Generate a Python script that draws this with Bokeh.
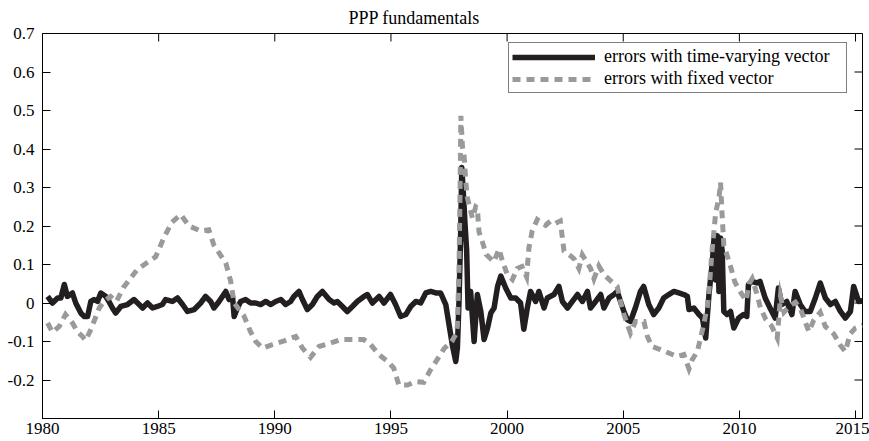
import math
from bokeh.plotting import figure
from bokeh.models import Range1d, Legend, LegendItem, FixedTicker, ColumnDataSource
from bokeh.embed import file_html
from bokeh.resources import INLINE

# ---- data ----
years_tv = [1980.22, 1980.43, 1980.65, 1980.79, 1980.94, 1981.07, 1981.29, 1981.43, 1981.65, 1981.79,
            1981.94, 1982.08, 1982.22, 1982.37, 1982.51, 1982.73, 1982.86, 1983.01, 1983.15, 1983.37,
            1983.66, 1983.94, 1984.16, 1984.31, 1984.52, 1984.74, 1984.94, 1985.16, 1985.30, 1985.59,
            1985.81, 1986.03, 1986.24, 1986.53, 1986.81, 1987.02, 1987.24, 1987.38, 1987.60, 1987.89,
            1988.03, 1988.18, 1988.25, 1988.39, 1988.53, 1988.74, 1988.96, 1989.18, 1989.39, 1989.61,
            1989.83, 1990.04, 1990.26, 1990.47, 1990.68, 1990.82, 1991.04, 1991.19, 1991.40, 1991.62,
            1991.83, 1992.05, 1992.34, 1992.55, 1992.69, 1992.91, 1993.12, 1993.34, 1993.55, 1993.84,
            1993.99, 1994.20, 1994.49, 1994.70, 1994.98, 1995.20, 1995.42, 1995.64, 1995.85, 1996.07,
            1996.28, 1996.50, 1996.71, 1996.93, 1997.14, 1997.36, 1997.50, 1997.64, 1997.79, 1997.86,
            1997.93, 1998.00, 1998.05, 1998.12, 1998.19, 1998.26, 1998.32, 1998.43, 1998.58, 1998.72,
            1998.87, 1999.01, 1999.16, 1999.30, 1999.44, 1999.59, 1999.73, 1999.94, 2000.16, 2000.37,
            2000.58, 2000.72, 2000.87, 2001.01, 2001.23, 2001.37, 2001.59, 2001.73, 2002.02, 2002.23,
            2002.38, 2002.60, 2002.81, 2003.03, 2003.24, 2003.46, 2003.59, 2003.81, 2004.03, 2004.17,
            2004.39, 2004.60, 2004.74, 2004.88, 2005.03, 2005.17, 2005.31, 2005.52, 2005.74, 2005.88,
            2006.10, 2006.31, 2006.53, 2006.74, 2006.96, 2007.18, 2007.39, 2007.61, 2007.76, 2007.83,
            2008.04, 2008.26, 2008.41, 2008.55, 2008.69, 2008.84, 2008.91, 2008.98, 2009.05, 2009.12,
            2009.19, 2009.26, 2009.33, 2009.47, 2009.62, 2009.76, 2009.97, 2010.18, 2010.32, 2010.39,
            2010.54, 2010.75, 2010.89, 2011.11, 2011.32, 2011.54, 2011.68, 2011.83, 2012.04, 2012.26,
            2012.40, 2012.62, 2012.83, 2013.05, 2013.27, 2013.48, 2013.70, 2013.92, 2014.13, 2014.35,
            2014.56, 2014.78, 2014.92, 2015.13, 2015.30]
errors_tv = [0.017, 0.0, 0.013, 0.013, 0.048, 0.017, 0.026, 0.0, -0.026, -0.035,
             -0.035, 0.004, 0.009, 0.004, 0.026, 0.017, 0.004, -0.013, -0.026, -0.009,
             -0.004, 0.009, -0.004, -0.013, 0.0, -0.013, -0.009, -0.004, 0.009, 0.004,
             0.013, -0.004, -0.022, -0.017, 0.0, 0.017, 0.004, -0.013, 0.004, 0.03,
             0.009, 0.017, -0.035, -0.013, 0.004, 0.009, 0.0, 0.0, -0.004, 0.004,
             -0.004, 0.004, 0.009, -0.004, 0.004, 0.017, 0.03, 0.009, -0.017, -0.004,
             0.017, 0.03, 0.009, 0.0, 0.004, -0.009, -0.022, -0.009, 0.004, 0.017,
             0.022, 0.0, 0.017, 0.0, 0.022, -0.004, -0.035, -0.03, -0.009, 0.004,
             0.0, 0.026, 0.03, 0.026, 0.026, -0.004, -0.056, -0.108, -0.152, -0.117,
             0.004, 0.178, 0.352, 0.282, 0.204, 0.135, -0.013, 0.03, -0.10, 0.022,
             -0.022, -0.095, -0.065, -0.026, -0.013, 0.043, 0.07, 0.039, 0.013, 0.013,
             0.0, -0.068, -0.013, 0.03, 0.004, 0.03, -0.013, 0.013, 0.022, 0.043,
             0.004, -0.013, 0.004, 0.022, 0.004, 0.03, -0.013, 0.004, 0.022, -0.013,
             0.013, 0.022, 0.03, 0.004, -0.022, -0.043, -0.048, -0.013, 0.03, 0.043,
             -0.004, -0.03, -0.013, 0.013, 0.022, 0.03, 0.026, 0.022, 0.017, -0.017,
             -0.013, -0.03, -0.039, -0.091, 0.022, 0.109, 0.169, 0.06, 0.175, 0.03,
             0.169, 0.135, -0.022, -0.03, -0.022, -0.065, -0.039, -0.03, -0.035, 0.048,
             0.056, 0.052, 0.056, 0.013, -0.013, -0.039, 0.039, -0.004, 0.004, -0.03,
             0.03, -0.004, -0.022, -0.022, 0.013, 0.052, 0.013, -0.004, 0.004, -0.022,
             -0.039, -0.022, 0.043, 0.004, 0.006]

years_fx = [1980.22, 1980.43, 1980.72, 1980.99, 1981.29, 1981.50, 1981.72, 1981.86, 1982.08, 1982.30,
            1982.44, 1982.65, 1982.93, 1983.18, 1983.48, 1984.08, 1984.48, 1984.87, 1985.23, 1985.57,
            1985.95, 1986.31, 1986.81, 1987.16, 1987.38, 1987.89, 1988.10, 1988.25, 1988.67, 1988.95,
            1989.18, 1989.47, 1989.90, 1990.33, 1990.90, 1991.19, 1991.54, 1991.90, 1992.41, 1992.83,
            1993.41, 1993.83, 1994.13, 1994.48, 1994.87, 1995.12, 1995.34, 1995.71, 1996.07, 1996.41,
            1996.71, 1996.99, 1997.28, 1997.61, 1997.79, 1997.86, 1997.93, 1997.97, 1998.01, 1998.08,
            1998.15, 1998.22, 1998.29, 1998.51, 1998.65, 1998.72, 1998.79, 1998.93, 1999.10, 1999.43,
            1999.65, 1999.80, 2000.01, 2000.23, 2000.44, 2000.64, 2000.84, 2000.94, 2001.08, 2001.30,
            2001.66, 2001.87, 2002.09, 2002.29, 2002.38, 2002.45, 2002.74, 2002.88, 2003.09, 2003.24,
            2003.59, 2003.74, 2003.95, 2004.17, 2004.45, 2004.74, 2004.88, 2005.03, 2005.31, 2005.53,
            2005.89, 2006.04, 2006.24, 2006.60, 2006.96, 2007.33, 2007.61, 2007.83, 2007.97, 2008.19,
            2008.41, 2008.62, 2008.69, 2008.76, 2008.84, 2008.91, 2008.98, 2009.12, 2009.19, 2009.26,
            2009.33, 2009.55, 2009.69, 2009.80, 2010.09, 2010.29, 2010.42, 2010.55, 2010.74, 2010.91,
            2011.14, 2011.39, 2011.63, 2011.77, 2011.92, 2012.21, 2012.41, 2012.63, 2012.99, 2013.20,
            2013.48, 2013.70, 2014.06, 2014.35, 2014.56, 2014.77, 2014.99, 2015.30]
errors_fx = [-0.052, -0.076, -0.061, -0.03, -0.052, -0.074, -0.087, -0.097, -0.069, -0.035,
             -0.013, 0.004, 0.017, 0.004, 0.04, 0.087, 0.104, 0.12, 0.17, 0.21,
             0.23, 0.20, 0.187, 0.19, 0.15, 0.104, 0.057, 0.0, -0.033, -0.074,
             -0.10, -0.117, -0.108, -0.10, -0.087, -0.117, -0.141, -0.113, -0.104, -0.095,
             -0.095, -0.095, -0.108, -0.134, -0.152, -0.169, -0.213, -0.213, -0.204, -0.206,
             -0.173, -0.147, -0.119, -0.10, -0.082, -0.06, 0.091, 0.265, 0.486, 0.404,
             0.382, 0.317, 0.273, 0.22, 0.25, 0.247, 0.185, 0.16, 0.126, 0.107,
             0.14, 0.109, 0.074, 0.061, 0.09, 0.095, 0.068, 0.143, 0.187, 0.217,
             0.202, 0.213, 0.207, 0.213, 0.169, 0.135, 0.122, 0.115, 0.09, 0.125,
             0.09, 0.063, 0.096, 0.074, 0.058, 0.043, 0.004, -0.03, -0.078, -0.048,
             -0.048, -0.087, -0.113, -0.121, -0.13, -0.139, -0.134, -0.171, -0.147, -0.126,
             -0.07, -0.01, 0.03, 0.085, 0.148, 0.19, 0.235, 0.273, 0.313, 0.225,
             0.15, 0.109, 0.08, 0.055, 0.024, 0.006, 0.05, 0.063, 0.026, -0.013,
             -0.043, -0.06, -0.091, 0.017, -0.024, -0.006, 0.002, -0.015, -0.074, -0.045,
             -0.024, -0.061, -0.08, -0.11, -0.126, -0.08, -0.065, -0.058]

x_ticks = [1980, 1985, 1990, 1995, 2000, 2005, 2010, 2015]
y_ticks = [-0.2, -0.1, 0, 0.1, 0.2, 0.3, 0.4, 0.5, 0.6, 0.7]
y_tick_labels = ["-0.2", "-0.1", "0", "0.1", "0.2", "0.3", "0.4", "0.5", "0.6", "0.7"]
series_names = ["errors with time-varying vector", "errors with fixed vector"]
title_text = "PPP fundamentals"
x_lo, x_hi = 1980, 2015.3
y_lo, y_hi = -0.3, 0.7

FONT = "Liberation Serif"
BLACK = "#231f20"
GRAY = "#9a9a9a"
TICK = 8

p = figure(width=869, height=441, x_range=Range1d(x_lo, x_hi), y_range=Range1d(y_lo, y_hi),
           output_backend="svg", toolbar_location=None,
           min_border_left=42, min_border_right=7, min_border_top=33, min_border_bottom=23)
p.xgrid.visible = False
p.ygrid.visible = False
p.outline_line_color = "black"
p.outline_line_width = 1
p.background_fill_color = "white"
p.border_fill_color = "white"

p.title.text = title_text
p.title.align = "left"
p.title.offset = 306
p.title.text_font = FONT
p.title.text_font_size = "18px"
p.title.text_font_style = "normal"
p.title.text_color = "black"
p.title.standoff = 11

def style_axis(ax, standoff):
    ax.axis_line_color = "black"
    ax.axis_line_width = 1
    ax.major_tick_line_color = "black"
    ax.major_tick_in = TICK
    ax.major_tick_out = 0
    ax.minor_tick_in = 0
    ax.minor_tick_out = 0
    ax.major_label_text_font = FONT
    ax.major_label_text_color = "black"
    ax.major_label_text_font_size = "17px"
    ax.major_label_standoff = standoff

xb = p.xaxis[0]
xb.ticker = FixedTicker(ticks=x_ticks)
xb.major_label_overrides = {t: str(t) for t in x_ticks}
style_axis(xb, 4)

yl = p.yaxis[0]
yl.ticker = FixedTicker(ticks=y_ticks)
yl.major_label_overrides = {t: lab for t, lab in zip(y_ticks, y_tick_labels)}
style_axis(yl, 8)

# inward tick marks on the top and right frame edges
p.ray(x=x_ticks, y=[y_hi] * len(x_ticks), length=TICK, length_units="screen",
      angle=-math.pi / 2, line_color="black", line_width=1)
p.ray(x=[x_hi] * len(y_ticks), y=y_ticks, length=TICK, length_units="screen",
      angle=math.pi, line_color="black", line_width=1)

src_tv = ColumnDataSource(dict(x=years_tv, y=errors_tv))
src_fx = ColumnDataSource(dict(x=years_fx, y=errors_fx))
r_tv = p.line("x", "y", source=src_tv, line_color=BLACK, line_width=5.5, line_join="round")
r_fx = p.line("x", "y", source=src_fx, line_color=GRAY, line_width=5, line_dash="8 6", line_join="miter")

legend = Legend(items=[LegendItem(label=series_names[0], renderers=[r_tv]),
                       LegendItem(label=series_names[1], renderers=[r_fx])],
                location=(466, 325))
legend.label_text_font = FONT
legend.label_text_font_size = "18px"
legend.label_text_color = "black"
legend.border_line_color = "black"
legend.border_line_width = 1
legend.padding = 3
legend.spacing = 1
legend.margin = 0
legend.label_height = 20
legend.glyph_height = 20
legend.glyph_width = 83
legend.label_standoff = 9
legend.label_width = 239
legend.background_fill_alpha = 1
p.add_layout(legend, "center")

open("out.html", "w").write(file_html(p, INLINE))
